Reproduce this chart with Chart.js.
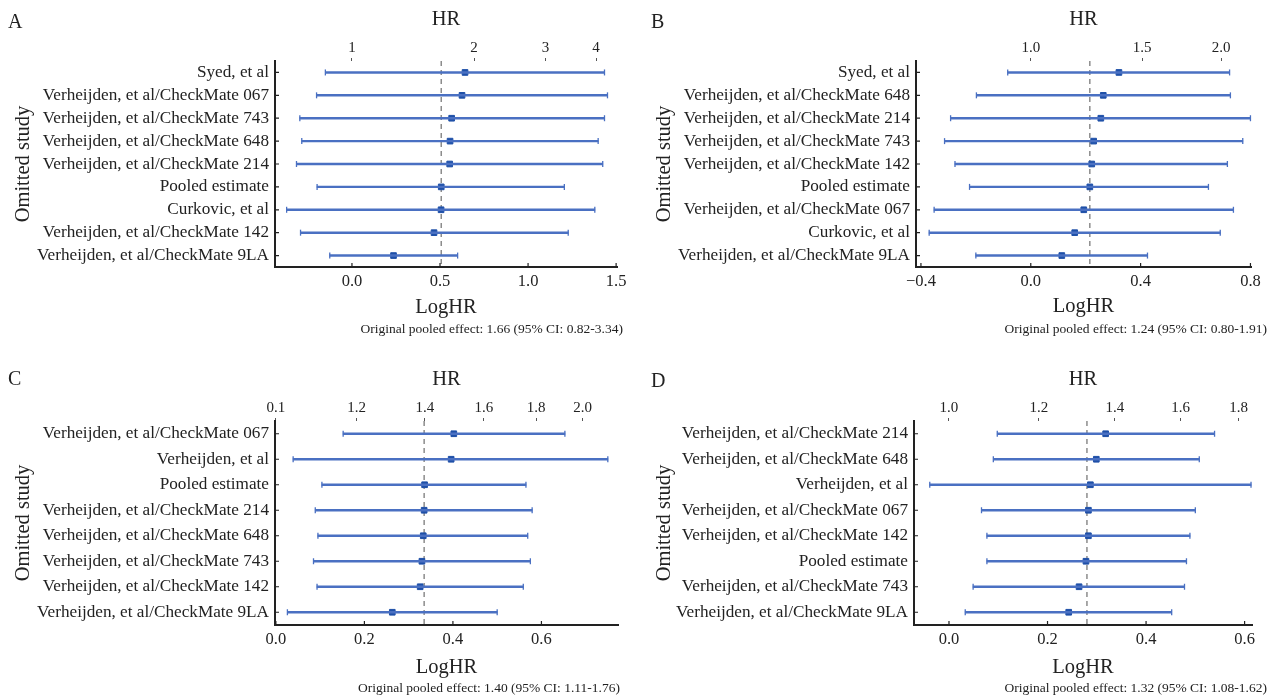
<!DOCTYPE html>
<html>
<head>
<meta charset="utf-8">
<script src="https://cdn.jsdelivr.net/npm/chart.js@4"></script>
<style>
    body { margin: 0; background: #fff; }
    #page { position: relative; width: 1272px; height: 699px; font-family: "Liberation Serif", "Times New Roman", serif; color: #222; }
    .panel { position: absolute; width: 636px; height: 349px; }
    .letter { position: absolute; font-size: 20px; line-height: 20px; }
    .note { position: absolute; font-size: 13.5px; line-height: 14px; white-space: nowrap; text-align: right; }
</style>
</head>
<body>
<div id="page">
    <div class="panel" style="left:0;top:0"><canvas id="chartA" width="636" height="349"></canvas></div>
    <div class="panel" style="left:636px;top:0"><canvas id="chartB" width="636" height="349"></canvas></div>
    <div class="panel" style="left:0;top:350px"><canvas id="chartC" width="636" height="349"></canvas></div>
    <div class="panel" style="left:636px;top:350px"><canvas id="chartD" width="636" height="349"></canvas></div>

    <div class="letter" style="left:8px;top:11px">A</div>
    <div class="letter" style="left:651px;top:11px">B</div>
    <div class="letter" style="left:8px;top:368px">C</div>
    <div class="letter" style="left:651px;top:370px">D</div>

    <div class="note" style="right:649px;top:322px">Original pooled effect: 1.66 (95% CI: 0.82-3.34)</div>
    <div class="note" style="right:5px;top:322px">Original pooled effect: 1.24 (95% CI: 0.80-1.91)</div>
    <div class="note" style="right:652px;top:681px">Original pooled effect: 1.40 (95% CI: 1.11-1.76)</div>
    <div class="note" style="right:5px;top:681px">Original pooled effect: 1.32 (95% CI: 1.08-1.62)</div>
</div>
<script>
// Data (log hazard ratios)

const studiesA = ["Syed, et al", "Verheijden, et al/CheckMate 067", "Verheijden, et al/CheckMate 743",
    "Verheijden, et al/CheckMate 648", "Verheijden, et al/CheckMate 214", "Pooled estimate",
    "Curkovic, et al", "Verheijden, et al/CheckMate 142", "Verheijden, et al/CheckMate 9LA"];
const estA = [0.642, 0.625, 0.566, 0.557, 0.555, 0.507, 0.506, 0.466, 0.236];
const lowA = [-0.151, -0.201, -0.296, -0.285, -0.315, -0.198, -0.371, -0.292, -0.126];
const upA = [1.434, 1.451, 1.434, 1.398, 1.424, 1.206, 1.379, 1.228, 0.600];
const pooledA = 0.507;
const logTicksA = [0, 0.5, 1.0, 1.5];
const hrTicksA = [1, 2, 3, 4];
const hrLabelsA = ["1", "2", "3", "4"];

const studiesB = ["Syed, et al", "Verheijden, et al/CheckMate 648", "Verheijden, et al/CheckMate 214",
    "Verheijden, et al/CheckMate 743", "Verheijden, et al/CheckMate 142", "Pooled estimate",
    "Verheijden, et al/CheckMate 067", "Curkovic, et al", "Verheijden, et al/CheckMate 9LA"];
const estB = [0.321, 0.264, 0.255, 0.229, 0.222, 0.215, 0.193, 0.160, 0.113];
const lowB = [-0.084, -0.198, -0.292, -0.314, -0.276, -0.223, -0.352, -0.370, -0.200];
const upB = [0.724, 0.727, 0.800, 0.772, 0.716, 0.647, 0.738, 0.690, 0.425];
const pooledB = 0.215;
const logTicksB = [-0.4, 0, 0.4, 0.8];
const hrTicksB = [1.0, 1.5, 2.0];
const hrLabelsB = ["1.0", "1.5", "2.0"];

const studiesC = ["Verheijden, et al/CheckMate 067", "Verheijden, et al", "Pooled estimate",
    "Verheijden, et al/CheckMate 214", "Verheijden, et al/CheckMate 648", "Verheijden, et al/CheckMate 743",
    "Verheijden, et al/CheckMate 142", "Verheijden, et al/CheckMate 9LA"];
const estC = [0.402, 0.396, 0.336, 0.335, 0.333, 0.330, 0.326, 0.263];
const lowC = [0.152, 0.039, 0.104, 0.089, 0.095, 0.085, 0.093, 0.026];
const upC = [0.653, 0.750, 0.565, 0.579, 0.569, 0.575, 0.559, 0.500];
const pooledC = 0.335;
const logTicksC = [0, 0.2, 0.4, 0.6];
const hrTicksC = [1.0, 1.2, 1.4, 1.6, 1.8, 2.0];
const hrLabelsC = ["0.1", "1.2", "1.4", "1.6", "1.8", "2.0"];

const studiesD = ["Verheijden, et al/CheckMate 214", "Verheijden, et al/CheckMate 648", "Verheijden, et al",
    "Verheijden, et al/CheckMate 067", "Verheijden, et al/CheckMate 142", "Pooled estimate",
    "Verheijden, et al/CheckMate 743", "Verheijden, et al/CheckMate 9LA"];
const estD = [0.318, 0.299, 0.287, 0.283, 0.283, 0.278, 0.264, 0.243];
const lowD = [0.098, 0.090, -0.039, 0.066, 0.077, 0.077, 0.049, 0.033];
const upD = [0.539, 0.508, 0.613, 0.500, 0.489, 0.482, 0.478, 0.452];
const pooledD = 0.280;
const logTicksD = [0, 0.2, 0.4, 0.6];
const hrTicksD = [1.0, 1.2, 1.4, 1.6, 1.8];
const hrLabelsD = ["1.0", "1.2", "1.4", "1.6", "1.8"];

// Style

const FONT = "'Liberation Serif', 'Times New Roman', serif";
const INK = "#222";
const LINE_BLUE = "#4a70c2";
const MARK_BLUE = "#1f50a8";

// Dashed pooled line + inward tick marks on the axes
const forestLines = {
    id: "forestLines",
    beforeDatasetsDraw(chart, args, opts) {
        const { ctx, chartArea } = chart;
        const x = chart.scales.x.getPixelForValue(opts.pooled);
        ctx.save();
        ctx.strokeStyle = "#8c8c8c";
        ctx.lineWidth = 1.5;
        ctx.setLineDash([5, 4]);
        ctx.beginPath();
        ctx.moveTo(x, chartArea.top);
        ctx.lineTo(x, chartArea.bottom);
        ctx.stroke();
        ctx.restore();
    },
    afterDraw(chart) {
        const { ctx, chartArea, scales } = chart;
        ctx.save();
        ctx.strokeStyle = INK;
        ctx.lineWidth = 1.2;
        ctx.beginPath();
        scales.x.ticks.forEach((t) => {
            const px = scales.x.getPixelForValue(t.value);
            ctx.moveTo(px, chartArea.bottom);
            ctx.lineTo(px, chartArea.bottom - 4);
        });
        scales.y.ticks.forEach((t, i) => {
            const py = scales.y.getPixelForTick(i);
            ctx.moveTo(chartArea.left, py);
            ctx.lineTo(chartArea.left + 4, py);
        });
        ctx.stroke();
        ctx.restore();
    }
};

function makeForest(id, d, g) {
    const W = 636, H = 349;
    const caps = d.low.map((v, i) => ({ x: v, y: d.studies[i] }))
        .concat(d.up.map((v, i) => ({ x: v, y: d.studies[i] })));

    return new Chart(document.getElementById(id), {
        type: "bar",
        data: {
            labels: d.studies,
            datasets: [
                {
                    data: d.low.map((v, i) => [v, d.up[i]]),
                    backgroundColor: LINE_BLUE,
                    barThickness: 1.8,
                    borderWidth: 0
                },
                {
                    type: "scatter",
                    data: caps,
                    pointStyle: "line",
                    rotation: 90,
                    pointRadius: 3,
                    borderColor: LINE_BLUE,
                    borderWidth: 1.3,
                    clip: 6
                },
                {
                    type: "scatter",
                    data: d.est.map((v, i) => ({ x: v, y: d.studies[i] })),
                    pointStyle: "rect",
                    pointRadius: 4,
                    backgroundColor: MARK_BLUE,
                    borderColor: MARK_BLUE,
                    borderWidth: 1,
                    clip: 6
                }
            ]
        },
        options: {
            responsive: false,
            animation: false,
            indexAxis: "y",
            layout: { padding: { left: 0, top: 0, right: W - g.right, bottom: H - (g.logY + 12) } },
            plugins: {
                legend: { display: false },
                tooltip: { enabled: false },
                forestLines: { pooled: d.pooled }
            },
            scales: {
                x: {
                    type: "linear",
                    position: "bottom",
                    min: d.min,
                    max: d.max,
                    afterBuildTicks: (s) => { s.ticks = d.logTicks.map((v) => ({ value: v })); },
                    afterFit: (s) => { s.height = g.logY + 12 - g.bottom; },
                    grid: { display: false, drawTicks: false },
                    border: { display: true, color: INK, width: 2 },
                    ticks: {
                        autoSkip: false,
                        maxRotation: 0,
                        padding: 5,
                        color: INK,
                        font: { family: FONT, size: 16.5 },
                        callback: (v) => v.toFixed(1).replace("-", "\u2212")
                    },
                    title: {
                        display: true,
                        text: "LogHR",
                        color: INK,
                        font: { family: FONT, size: 20.5 },
                        padding: { top: 0, bottom: 0 }
                    }
                },
                x2: {
                    type: "linear",
                    position: "top",
                    min: d.min,
                    max: d.max,
                    afterBuildTicks: (s) => { s.ticks = d.hrTicks.map((h) => ({ value: Math.log(h) })); },
                    afterFit: (s) => { s.height = g.top; },
                    grid: { display: true, drawOnChartArea: false, drawTicks: true, tickLength: 3, color: "#555" },
                    border: { display: false },
                    ticks: {
                        autoSkip: false,
                        maxRotation: 0,
                        padding: 1,
                        color: INK,
                        font: { family: FONT, size: 15 },
                        callback: (v, i) => d.hrLabels[i]
                    },
                    title: {
                        display: true,
                        text: "HR",
                        color: INK,
                        font: { family: FONT, size: 20.5 },
                        padding: { top: g.hrY - 12, bottom: 0 }
                    }
                },
                y: {
                    type: "category",
                    position: "left",
                    afterFit: (s) => { s.width = g.left; },
                    grid: { display: false, drawTicks: false },
                    border: { display: true, color: INK, width: 2 },
                    ticks: {
                        autoSkip: false,
                        padding: 6,
                        color: INK,
                        font: { family: FONT, size: 17.2 }
                    },
                    title: {
                        display: true,
                        text: "Omitted study",
                        color: INK,
                        font: { family: FONT, size: 20.5 },
                        padding: { top: g.yPad, bottom: 0 }
                    }
                }
            }
        },
        plugins: [forestLines]
    });
}

// Render

makeForest("chartA",
    { studies: studiesA, est: estA, low: lowA, up: upA, pooled: pooledA, min: -0.437, max: 1.505,
      logTicks: logTicksA, hrTicks: hrTicksA, hrLabels: hrLabelsA },
    { left: 275, right: 617, top: 61, bottom: 267, hrY: 19, logY: 308, yPad: 11 });

makeForest("chartB",
    { studies: studiesB, est: estB, low: lowB, up: upB, pooled: pooledB, min: -0.418, max: 0.802,
      logTicks: logTicksB, hrTicks: hrTicksB, hrLabels: hrLabelsB },
    { left: 280, right: 615, top: 61, bottom: 267, hrY: 19, logY: 307, yPad: 16 });

makeForest("chartC",
    { studies: studiesC, est: estC, low: lowC, up: upC, pooled: pooledC, min: -0.002, max: 0.773,
      logTicks: logTicksC, hrTicks: hrTicksC, hrLabels: hrLabelsC },
    { left: 275, right: 618, top: 71, bottom: 275, hrY: 29, logY: 318, yPad: 11 });

makeForest("chartD",
    { studies: studiesD, est: estD, low: lowD, up: upD, pooled: pooledD, min: -0.071, max: 0.615,
      logTicks: logTicksD, hrTicks: hrTicksD, hrLabels: hrLabelsD },
    { left: 278, right: 616, top: 71, bottom: 275, hrY: 29, logY: 318, yPad: 16 });
</script>
</body>
</html>
